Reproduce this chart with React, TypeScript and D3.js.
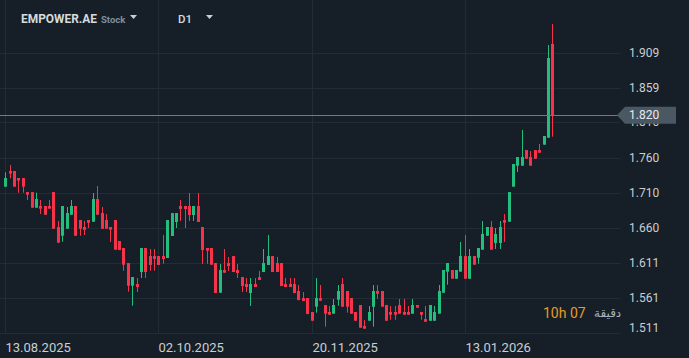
import React from "react";
import * as d3 from "d3";

// OHLC values (one entry per trading day)
const opens = [1.7186,1.7408,1.7408,1.7309,1.7309,1.7110,1.7110,1.6888,1.6912,1.6912,1.6912,1.7110,1.6614,1.6490,1.6590,1.6788,1.6912,1.6713,1.6614,1.6713,1.6689,1.7011,1.6812,1.6713,1.6614,1.6713,1.6415,1.6316,1.6103,1.5781,1.5805,1.5975,1.6316,1.6202,1.6202,1.6202,1.6202,1.6174,1.6486,1.6685,1.6912,1.6912,1.6912,1.6784,1.6912,1.6614,1.6316,1.6316,1.6103,1.5681,1.6004,1.6103,1.6202,1.6004,1.5904,1.5805,1.5677,1.5805,1.5904,1.5975,1.6075,1.6202,1.6103,1.6103,1.5805,1.5805,1.5805,1.5706,1.5606,1.5606,1.5408,1.5483,1.5606,1.5507,1.5408,1.5384,1.5582,1.5805,1.5706,1.5606,1.5408,1.5507,1.5209,1.5284,1.5483,1.5706,1.5706,1.5507,1.5408,1.5408,1.5507,1.5408,1.5408,1.5384,1.5507,1.5408,1.5308,1.5284,1.5284,1.5384,1.5681,1.5980,1.6004,1.5880,1.5980,1.6202,1.5880,1.6202,1.6178,1.6292,1.6490,1.6614,1.6387,1.6387,1.6713,1.6689,1.7186,1.7484,1.7484,1.7706,1.7607,1.7706,1.7706,1.7782,1.7881,1.9211];
const highs = [1.7390,1.7494,1.7408,1.7309,1.7309,1.7110,1.7110,1.7101,1.6997,1.6912,1.6997,1.7110,1.6699,1.6912,1.6898,1.6997,1.6912,1.6713,1.6699,1.6713,1.7096,1.7196,1.6898,1.6798,1.6614,1.6713,1.6415,1.6316,1.6103,1.5904,1.5890,1.6316,1.6316,1.6302,1.6302,1.6202,1.6500,1.6713,1.6812,1.6812,1.6997,1.6912,1.7096,1.6912,1.7096,1.6614,1.6316,1.6316,1.6103,1.6089,1.6302,1.6188,1.6202,1.6089,1.5904,1.5890,1.5890,1.5890,1.5990,1.6302,1.6500,1.6202,1.6188,1.6103,1.5890,1.5890,1.5890,1.5791,1.5691,1.5606,1.5408,1.5890,1.5791,1.5507,1.5493,1.5592,1.5791,1.5890,1.5706,1.5606,1.5408,1.5507,1.5294,1.5493,1.5791,1.5791,1.5706,1.5507,1.5493,1.5493,1.5592,1.5592,1.5493,1.5592,1.5507,1.5408,1.5493,1.5507,1.5493,1.5791,1.6004,1.6103,1.6004,1.6004,1.6401,1.6500,1.6302,1.6202,1.6316,1.6699,1.6614,1.6699,1.6600,1.6699,1.6798,1.7110,1.7508,1.7607,1.7990,1.7706,1.7692,1.7706,1.7792,1.7905,1.9196,1.9494];
const lows = [1.7186,1.7305,1.7186,1.7101,1.7101,1.6997,1.6888,1.6888,1.6798,1.6788,1.6874,1.6590,1.6391,1.6405,1.6590,1.6788,1.6490,1.6490,1.6500,1.6600,1.6689,1.6788,1.6590,1.6590,1.6401,1.6292,1.6287,1.5994,1.5696,1.5497,1.5691,1.5890,1.5890,1.5994,1.5994,1.6075,1.6093,1.6174,1.6486,1.6600,1.6699,1.6600,1.6699,1.6699,1.6685,1.6089,1.6093,1.6079,1.5677,1.5681,1.5965,1.5990,1.5975,1.5890,1.5691,1.5691,1.5493,1.5762,1.5862,1.5975,1.6075,1.5975,1.5975,1.5776,1.5762,1.5762,1.5677,1.5577,1.5563,1.5379,1.5284,1.5398,1.5567,1.5199,1.5369,1.5384,1.5497,1.5483,1.5398,1.5384,1.5284,1.5185,1.5171,1.5284,1.5199,1.5596,1.5483,1.5284,1.5298,1.5298,1.5384,1.5369,1.5369,1.5384,1.5469,1.5298,1.5270,1.5284,1.5284,1.5384,1.5681,1.5795,1.5880,1.5880,1.5980,1.5880,1.5880,1.6079,1.6093,1.6292,1.6490,1.6292,1.6302,1.6302,1.6401,1.6689,1.7186,1.7394,1.7484,1.7583,1.7484,1.7583,1.7668,1.7782,1.7881,1.7895];
const closes = [1.7309,1.7375,1.7186,1.7276,1.7186,1.7072,1.6888,1.7011,1.6874,1.6788,1.6874,1.6590,1.6391,1.6912,1.6812,1.6912,1.6490,1.6590,1.6575,1.6675,1.7011,1.6788,1.6590,1.6590,1.6575,1.6292,1.6287,1.6079,1.5781,1.5904,1.5762,1.6316,1.5975,1.6075,1.6160,1.6075,1.6160,1.6713,1.6812,1.6812,1.6869,1.6869,1.6784,1.6912,1.6685,1.6287,1.6277,1.6079,1.5677,1.6004,1.5965,1.6060,1.5975,1.5961,1.5776,1.5762,1.5805,1.5762,1.5862,1.6103,1.6202,1.5975,1.5975,1.5776,1.5762,1.5762,1.5677,1.5577,1.5563,1.5379,1.5284,1.5606,1.5567,1.5384,1.5369,1.5507,1.5706,1.5483,1.5483,1.5384,1.5284,1.5185,1.5171,1.5408,1.5706,1.5667,1.5483,1.5284,1.5369,1.5369,1.5384,1.5369,1.5369,1.5507,1.5469,1.5369,1.5270,1.5507,1.5408,1.5706,1.6004,1.6103,1.5880,1.6004,1.6202,1.5880,1.6202,1.6079,1.6316,1.6515,1.6614,1.6292,1.6515,1.6614,1.6675,1.7110,1.7508,1.7607,1.7607,1.7583,1.7484,1.7583,1.7668,1.7905,1.9012,1.8200];

const priceTicks = [1.511, 1.561, 1.611, 1.660, 1.710, 1.760, 1.810, 1.859, 1.909];
const dateTickIndex = [0, 35, 70, 105];
const dateTickLabels = ["13.08.2025", "02.10.2025", "20.11.2025", "13.01.2026"];
const currentPrice = 1.82;
const symbol = "EMPOWER.AE";
const symbolType = "Stock";
const timeframe = "D1";
const countdownValue = "10h 07";
const countdownUnit = "دقيقة";

const W = 689;
const H = 358;
const BG = "#161f27";
const GRID = "#222c35";
const UP = "#23bd7e";
const DOWN = "#f5334a";
const TEXT = "#c9ced3";
const FONT = "Roboto, 'Noto Sans', sans-serif";

export default function App() {
  const n = closes.length;
  const x = d3.scaleLinear().domain([0, n - 1]).range([5.3, 552.3]);
  const y = d3.scaleLinear().domain([1.511, 1.909]).range([333, 52.5]);
  const plotRight = 620;
  const axisBottom = 333;

  const candles = d3.range(n).map((i) => ({
    i,
    o: opens[i],
    h: highs[i],
    l: lows[i],
    c: closes[i],
  }));

  const cy = y(currentPrice);

  return (
    <svg
      width={W}
      height={H}
      style={{ position: "absolute", left: 0, top: 0, display: "block" }}
      fontFamily={FONT}
    >
      <rect x={0} y={0} width={W} height={H} fill={BG} />
      {priceTicks.map((p) => (
        <line
          key={"h" + p}
          x1={0}
          x2={plotRight}
          y1={Math.round(y(p)) + 0.5}
          y2={Math.round(y(p)) + 0.5}
          stroke={GRID}
          strokeWidth={1}
        />
      ))}
      {dateTickIndex.map((d) => (
        <line
          key={"v" + d}
          x1={Math.round(x(d)) + 0.5}
          x2={Math.round(x(d)) + 0.5}
          y1={0}
          y2={axisBottom}
          stroke={GRID}
          strokeWidth={1}
        />
      ))}
      {candles.map((k) => {
        const up = k.c >= k.o;
        const col = up ? UP : DOWN;
        const cx = Math.round(x(k.i));
        const top = y(Math.max(k.o, k.c));
        const bot = y(Math.min(k.o, k.c));
        const bh = Math.max(2.5, bot - top);
        return (
          <g key={k.i}>
            <line
              x1={cx + 0.5}
              x2={cx + 0.5}
              y1={y(k.h)}
              y2={y(k.l)}
              stroke={col}
              strokeWidth={1}
            />
            <rect x={cx - 1} y={top} width={3} height={bh} fill={col} />
          </g>
        );
      })}
      <line
        x1={0}
        x2={618}
        y1={Math.round(cy) + 0.5}
        y2={Math.round(cy) + 0.5}
        stroke="#6e7c87"
        strokeWidth={1}
      />
      {priceTicks.map((p) => {
        const py = Math.min(y(p), 328);
        return (
          <text
            key={"t" + p}
            x={629}
            y={py}
            dy="0.35em"
            fontSize={12}
            fill={TEXT}
          >
            {p.toFixed(3)}
          </text>
        );
      })}
      <path
        d={`M617,${cy} L625,${cy - 8.5} L676,${cy - 8.5} L676,${cy + 8.5} L625,${cy + 8.5} Z`}
        fill="#4a5864"
      />
      <text x={629} y={cy} dy="0.35em" fontSize={12} fill="#e8ebee">
        {currentPrice.toFixed(3)}
      </text>
      <line x1={0} x2={plotRight} y1={axisBottom + 0.5} y2={axisBottom + 0.5} stroke={GRID} />
      {dateTickIndex.map((d, j) => (
        <text
          key={"d" + d}
          x={Math.round(x(d)) + 0.5}
          y={347}
          dy="0.35em"
          fontSize={13}
          fill={TEXT}
        >
          {dateTickLabels[j]}
        </text>
      ))}
      <text x={21} y={19} dy="0.35em" fontSize={12} fontWeight={700} fill="#d6dadd" textLength={76} lengthAdjust="spacingAndGlyphs">
        {symbol}
      </text>
      <text x={101} y={20} dy="0.35em" fontSize={9.5} fontWeight={700} fill="#7f8e99">
        {symbolType}
      </text>
      <path d="M130,15 L137,15 L133.5,19 Z" fill="#c9ced3" />
      <text x={178} y={19} dy="0.35em" fontSize={11.5} fontWeight={500} fill="#d6dadd">
        {timeframe}
      </text>
      <path d="M206,15 L213,15 L209.5,19 Z" fill="#c9ced3" />
      <text x={543} y={313} dy="0.35em" fontSize={14} fill="#e59a2a">
        {countdownValue}
      </text>
      <text x={594} y={313} dy="0.35em" fontSize={12} fill="#aab3ba" fontFamily="'DejaVu Sans', 'Noto Sans', sans-serif">
        {countdownUnit}
      </text>
    </svg>
  );
}
